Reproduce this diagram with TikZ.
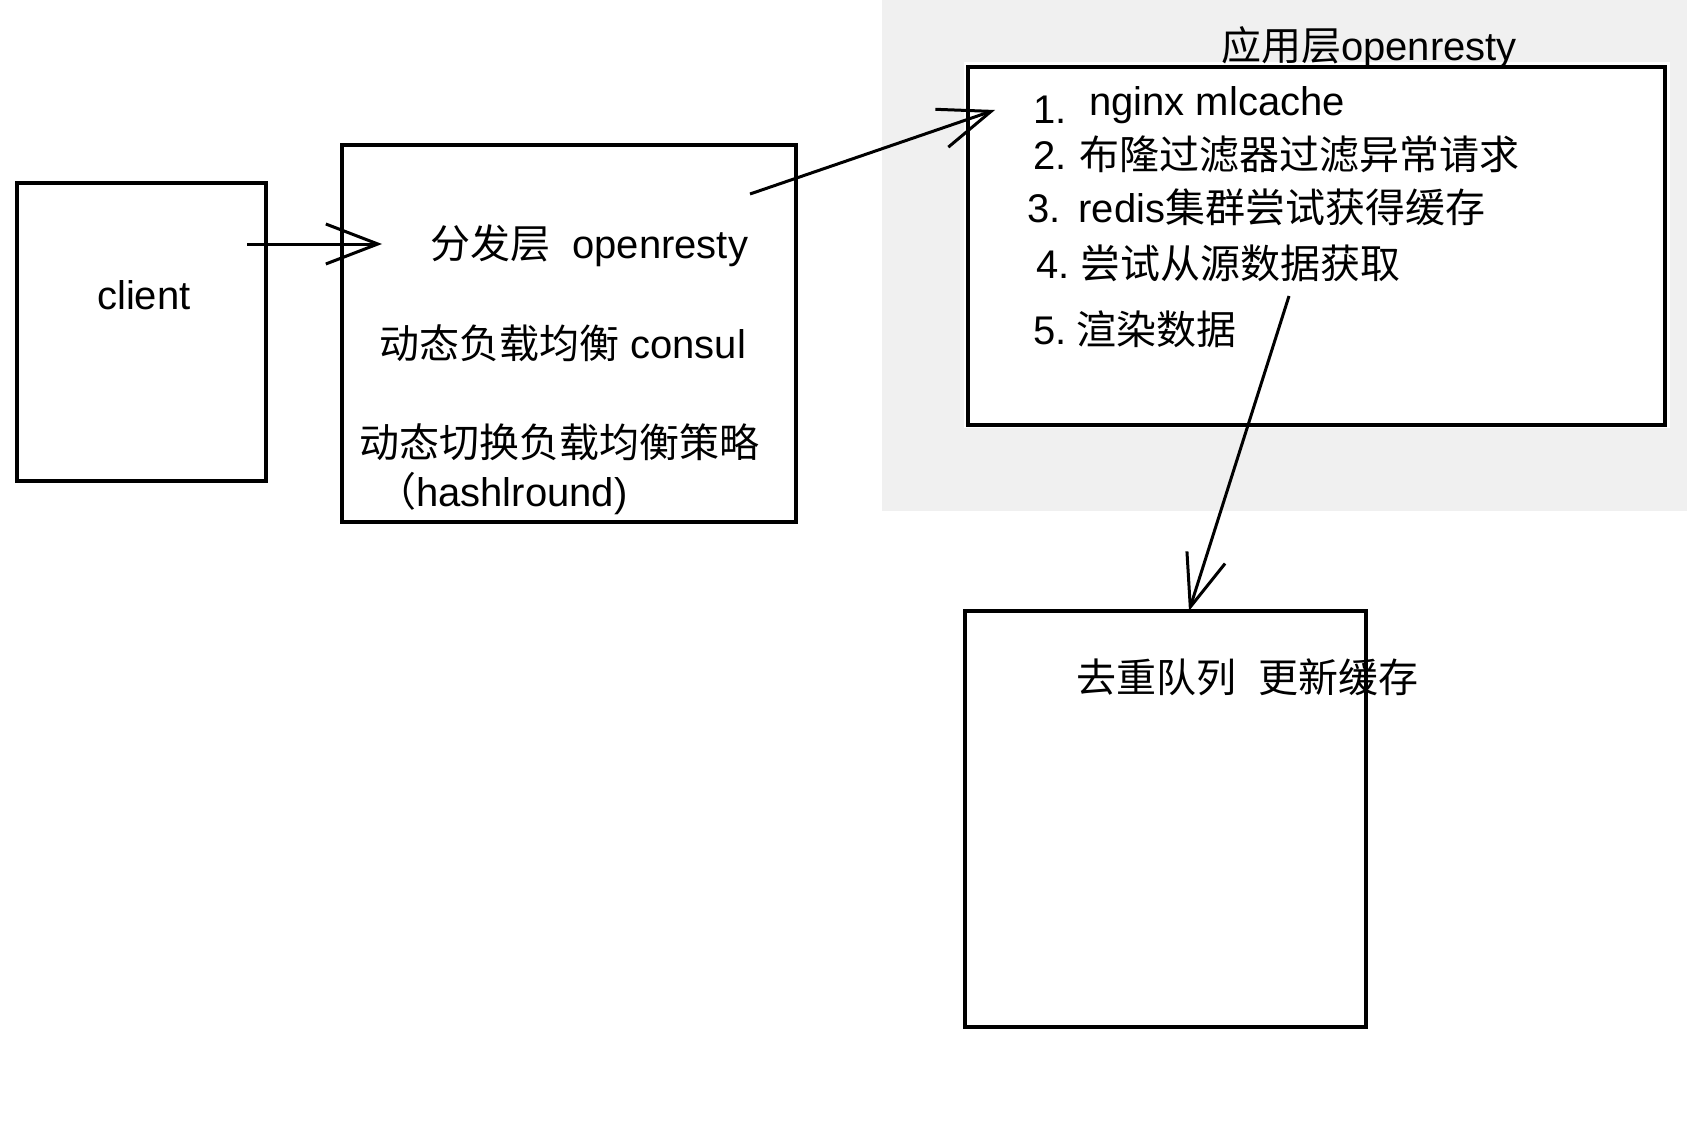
\documentclass[tikz,border=0pt]{standalone}
\usepackage{fontspec}
\setmainfont{Liberation Sans}
\newfontfamily\cjk{Noto Sans CJK SC}
\newcommand{\zh}[1]{{\cjk #1}}
\usetikzlibrary{arrows.meta}
\tikzset{
  box/.style={draw, line width=3.6pt, inner sep=0pt},
  txt/.style={anchor=base west, inner sep=0pt, font=\fontsize{40}{45}\selectfont},
  flow/.style={line width=3pt, -{Straight Barb[length=52pt,width=40pt]}}
}
\begin{document}
\begin{tikzpicture}[x=1pt,y=-1pt]
  \useasboundingbox (0,0) rectangle (1687,1121);
  \fill[gray!12] (882,0) rectangle (1687,511);
  \fill[white] (964,62) rectangle (1670,428);
  \draw
    (141.5,332) node[box, minimum width=249pt, minimum height=298pt] (client){}
    (569,333.5) node[box, minimum width=454pt, minimum height=377pt] (dist){}
    (1316.5,246) node[box, minimum width=697pt, minimum height=358pt] (app){}
    (1165.5,819) node[box, minimum width=401pt, minimum height=416pt] (queue){};
  \draw
    (97,309) node[txt] (tclient){client}
    (430,258) node[txt] (tdist){\zh{分发层}\ \ openresty}
    (379,358) node[txt] (tconsul){\zh{动态负载均衡} consul}
    (359,457) node[txt] (tpolicy){\zh{动态切换负载均衡策略}}
    (376,506) node[txt] (thash){\zh{（}hashlround)}
    (1221,61) node[txt] (tapp){\zh{应用层}openresty}
    (1033,124) node[txt] (tnum1){1.}
    (1089,116) node[txt] (tstep1){nginx mlcache}
    (1033,169) node[txt] (tstep2){2.\hspace{12.5pt}\zh{布隆过滤器过滤异常请求}}
    (1027,222) node[txt] (tstep3){3.\hspace{18pt}redis\zh{集群尝试获得缓存}}
    (1036,278) node[txt] (tstep4){4.\hspace{10.5pt}\zh{尝试从源数据获取}}
    (1033,344) node[txt] (tstep5){5.\hspace{9.5pt}\zh{渲染数据}}
    (1076,692) node[txt] (tqueue){\zh{去重队列}\ \ \zh{更新缓存}};
  \coordinate (a1s) at (247,244);
  \coordinate (a1e) at (382,244);
  \coordinate (a2s) at (750,194);
  \coordinate (a2e) at (995,110);
  \coordinate (a3s) at (1289,296);
  \coordinate (a3e) at (1189,611);
  \begin{scope}[flow]
    \draw (a1s) to (a1e);
    \draw (a2s) to (a2e);
    \draw (a3s) to (a3e);
  \end{scope}
\end{tikzpicture}
\end{document}
